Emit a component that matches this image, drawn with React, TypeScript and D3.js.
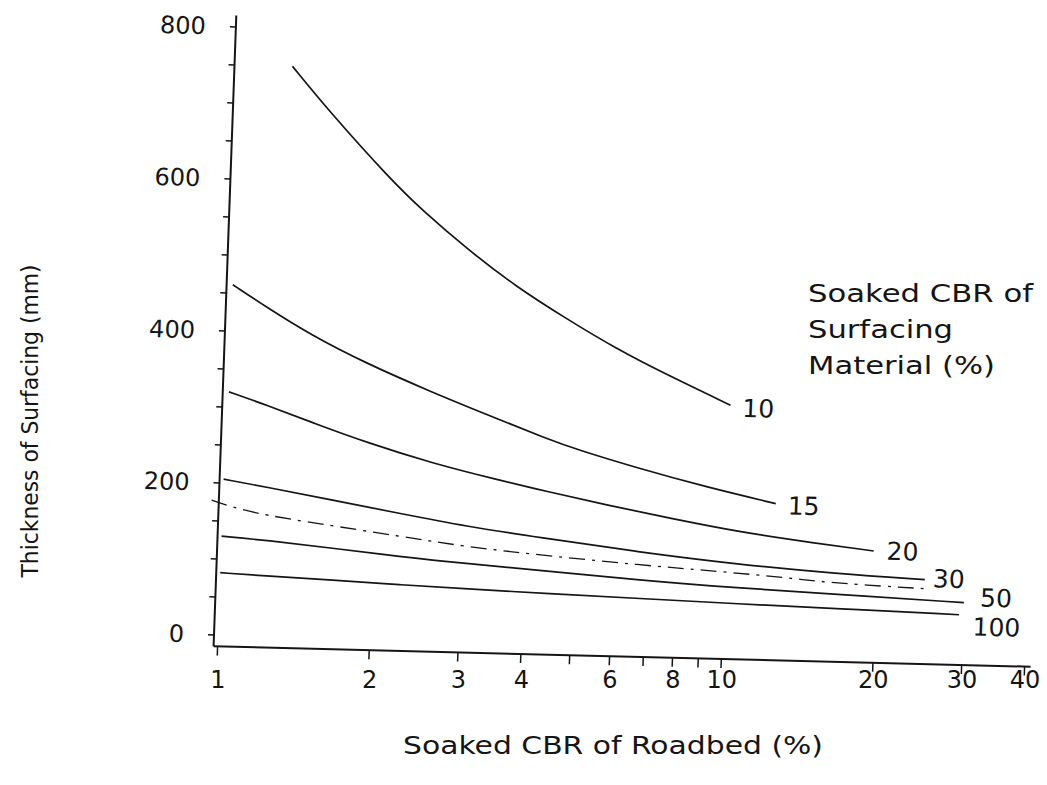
import React from 'react'
import * as d3 from 'd3'

// curves: soaked CBR of roadbed (%) -> thickness of surfacing (mm)
const cbr10 = [1.28, 1.53, 2.03, 2.37, 2.95, 3.68, 4.64, 5.86, 7.38, 10]
const thick10 = [750, 691, 606, 565, 514, 468, 428, 390, 358, 319]
const cbr15 = [1.01, 1.18, 1.45, 1.88, 2.56, 3.22, 4.38, 5.03, 6.63, 9.02, 12.5]
const thick15 = [461, 433, 398, 362, 326, 301, 268, 255, 233, 211, 191]
const cbr20 = [1.01, 1.2, 1.52, 1.91, 2.58, 3.51, 4.42, 5.74, 7.77, 10.55, 13.9, 19.7]
const thick20 = [320, 304, 280, 258, 233, 213, 199, 184, 168, 153, 143, 132]
const cbr30 = [1.0, 1.22, 1.65, 2.24, 3.05, 4.25, 6.72, 10.6, 16.7, 25]
const thick30 = [205, 196, 181, 166, 151, 139, 123, 110, 101, 96]
const cbrDashed = [0.95, 1.05, 1.22, 1.54, 2.25, 3.06, 4.47, 6.73, 9.8, 13.3, 16.8, 25.5]
const thickDashed = [177, 168, 159, 150, 136, 124, 115, 106, 100, 94, 88, 84]
const cbr50 = [1.0, 1.23, 1.66, 2.26, 3.07, 4.48, 6.75, 10.6, 16.8, 30]
const thick50 = [130, 126, 118, 109, 102, 95, 86, 79, 74, 67]
const cbr100 = [1.0, 1.24, 1.67, 2.27, 3.08, 4.49, 6.78, 10.7, 16.9, 29.4]
const thick100 = [82, 79, 76, 72, 69, 65, 62, 58, 55, 51]

const curveLabels = ['10', '15', '20', '30', '', '50', '100']
const xTicks = [1, 2, 3, 4, 5, 6, 7, 8, 9, 10, 20, 30, 40]
const xTickLabels = [1, 2, 3, 4, 6, 8, 10, 20, 30, 40]
const yTicks = [0, 50, 100, 150, 200, 250, 300, 350, 400, 450, 500, 550, 600, 650, 700, 750, 800]
const yTickLabels = [0, 200, 400, 600, 800]
const legendLines = ['Soaked CBR of', 'Surfacing', 'Material (%)']

const series = [
  [cbr10, thick10],
  [cbr15, thick15],
  [cbr20, thick20],
  [cbr30, thick30],
  [cbrDashed, thickDashed],
  [cbr50, thick50],
  [cbr100, thick100],
].map(([xs, ys], i) => ({
  label: curveLabels[i],
  dashed: curveLabels[i] === '',
  points: xs.map((x, j) => [x, ys[j]] as [number, number]),
}))

// where each curve label sits relative to the curve's end
const labelNudge = [[12, 3], [12, 2], [13, 0], [8, -1], [0, 0], [16, -5], [14, 12]]

const width = 1047
const height = 785
const plotLeft = 218
const zeroY = 635
const plotW = 807
const plotH = 608
// the scanned page is slightly skewed
const slopeX = 0.025
const leanY = 0.036
const frame = `matrix(1, ${slopeX}, ${-leanY}, 1, ${plotLeft + leanY * plotH}, ${zeroY - plotH})`

const xScale = d3.scaleLog().domain([1, 40]).range([0, plotW])
const yScale = d3.scaleLinear().domain([0, 800]).range([plotH, 0])

const line = d3
  .line<[number, number]>()
  .x(d => xScale(d[0]))
  .y(d => yScale(d[1]))
  .curve(d3.curveBasis)

const font = '"DejaVu Sans", sans-serif'
const ink = '#151515'

export default function App() {
  const axisX = xScale(1) - 4
  const axisY = yScale(-15)
  const axisEnd = xScale(40) + 6

  return (
    <svg
      width={width}
      height={height}
      style={{ position: 'absolute', left: 0, top: 0, background: '#fff' }}
      fontFamily={font}
    >
      <rect width={width} height={height} fill="#fff" />
      <g transform={frame}>
        {/* y axis */}
        <line x1={axisX} x2={axisX} y1={axisY} y2={yScale(815)} stroke={ink} strokeWidth={2} />
        {yTicks.map(t => (
          <line key={t} x1={axisX - 6} x2={axisX} y1={yScale(t)} y2={yScale(t)} stroke={ink} strokeWidth={1.5} />
        ))}
        {yTickLabels.map(t => (
          <text
            key={t}
            x={axisX - 30}
            y={yScale(t)}
            textAnchor="end"
            dominantBaseline="central"
            fontSize={24}
            fill={ink}
          >
            {t}
          </text>
        ))}

        {/* x axis */}
        <line x1={axisX} x2={axisEnd} y1={axisY} y2={axisY} stroke={ink} strokeWidth={2} />
        {xTicks.map(t => (
          <line key={t} x1={xScale(t)} x2={xScale(t)} y1={axisY} y2={axisY + 9} stroke={ink} strokeWidth={1.5} />
        ))}

        {/* curves */}
        {series.map((s, i) => (
          <path
            key={i}
            d={line(s.points) || ''}
            fill="none"
            stroke={ink}
            strokeWidth={s.dashed ? 1.3 : 1.7}
            strokeDasharray={s.dashed ? '16 7 3 7' : undefined}
          />
        ))}
        {series.map((s, i) => {
          if (!s.label) return null
          const last = s.points[s.points.length - 1]
          return (
            <text
              key={i}
              x={xScale(last[0]) + labelNudge[i][0]}
              y={yScale(last[1]) + labelNudge[i][1]}
              dominantBaseline="central"
              fontSize={25}
              fill={ink}
            >
              {s.label}
            </text>
          )
        })}
      </g>

      {/* x tick labels stay level on the page */}
      {xTickLabels.map(t => (
        <text
          key={t}
          x={plotLeft + xScale(t)}
          y={680}
          textAnchor="middle"
          dominantBaseline="central"
          fontSize={24}
          fill={ink}
        >
          {t}
        </text>
      ))}

      <text
        x={613}
        y={745}
        textAnchor="middle"
        dominantBaseline="central"
        fontSize={25}
        textLength={420}
        lengthAdjust="spacingAndGlyphs"
        fill={ink}
      >
        Soaked CBR of Roadbed (%)
      </text>

      <text
        transform="translate(30, 421) rotate(-90)"
        textAnchor="middle"
        dominantBaseline="central"
        fontSize={23}
        textLength={313}
        lengthAdjust="spacingAndGlyphs"
        fill={ink}
      >
        Thickness of Surfacing (mm)
      </text>

      {legendLines.map((l, i) => (
        <text
          key={l}
          x={808}
          y={294 + i * 36}
          dominantBaseline="central"
          fontSize={24}
          textLength={[225, 145, 187][i]}
          lengthAdjust="spacingAndGlyphs"
          fill={ink}
        >
          {l}
        </text>
      ))}
    </svg>
  )
}
